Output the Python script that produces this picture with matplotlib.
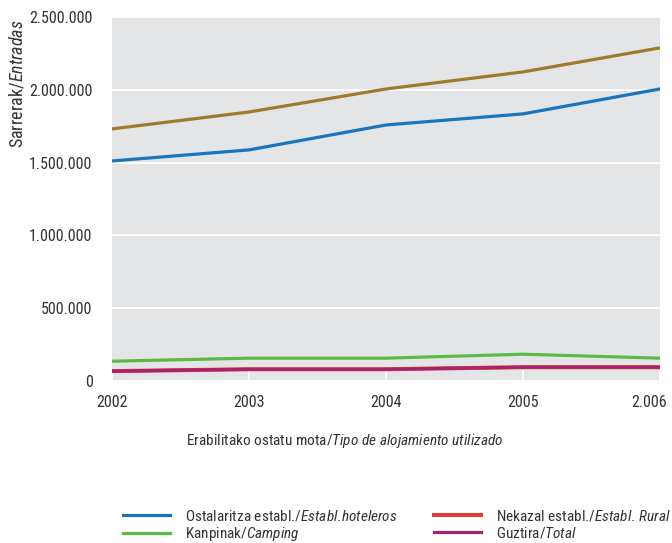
import matplotlib
matplotlib.use('Agg')
import matplotlib.pyplot as plt
import matplotlib.transforms as mtransforms
from matplotlib.ticker import FuncFormatter

# Data
years = [2002, 2003, 2004, 2005, 2006]
year_labels = ['2002', '2003', '2004', '2005', '2.006']
hoteleros = [1511000, 1587000, 1758000, 1834000, 2005000]
total_top = [1731000, 1847000, 2005000, 2122000, 2287000]
camping = [137000, 158000, 158000, 185000, 158000]
rural = [69000, 82000, 82000, 96000, 96000]
guztira = [69000, 82000, 82000, 96000, 96000]

FONT = 'Roboto Condensed'
plt.rcParams['font.family'] = [FONT, 'IBM Plex Sans Condensed', 'DejaVu Sans']
plt.rcParams['mathtext.fontset'] = 'custom'
plt.rcParams['mathtext.rm'] = FONT
plt.rcParams['mathtext.it'] = FONT + ':italic'

TXT = '#333333'

fig = plt.figure(figsize=(6.72, 5.43), dpi=100)
ax = fig.add_axes([0.1667, 0.298, 0.8153, 0.671])
ax.set_facecolor('#e4e5e7')
for s in ax.spines.values():
    s.set_visible(False)

lw = 2.3
ax.plot(years, total_top, color='#a07c2a', lw=lw, zorder=3)
h1, = ax.plot(years, hoteleros, color='#1a75bc', lw=lw, zorder=3)
h2, = ax.plot(years, camping, color='#5cb947', lw=lw, zorder=3)
h3, = ax.plot(years, rural, color='#e03c31', lw=lw + 0.6, zorder=3)
h4, = ax.plot(years, guztira, color='#a8226f', lw=lw, zorder=4)

ax.set_xlim(2002, 2006)
ax.set_ylim(0, 2500000)
ax.set_yticks([0, 500000, 1000000, 1500000, 2000000, 2500000])
ax.yaxis.set_major_formatter(FuncFormatter(lambda v, p: f'{v:,.0f}'.replace(',', '.')))
ax.set_xticks(years)
ax.set_xticklabels(year_labels)
ax.grid(axis='y', color='white', lw=1.3, zorder=1)
ax.tick_params(axis='y', length=0, labelsize=11.5, colors=TXT, pad=14)
ax.tick_params(axis='x', direction='in', length=8, width=1.3, color='white',
               labelsize=11.5, labelcolor=TXT, pad=10)

# last year label sits inside the figure
last = ax.get_xticklabels()[-1]
last.set_horizontalalignment('right')
last.set_transform(last.get_transform() + mtransforms.ScaledTranslation(7 / 100, 0, fig.dpi_scale_trans))

fig.text(0.026, 0.846, r'Sarrerak/$\mathit{Entradas}$', rotation=90,
         ha='center', va='center', fontsize=13, color=TXT)
fig.text(0.513, 0.188, r'Erabilitako ostatu mota/$\mathit{Tipo\ de\ alojamiento\ utilizado}$',
         ha='center', va='center', fontsize=11, color=TXT)

# legend: two separate columns placed like the original
leg_kw = dict(loc='upper left', frameon=False, fontsize=11, handlelength=3.1,
              handletextpad=0.95, labelspacing=0.1, borderpad=0,
              borderaxespad=0, labelcolor=TXT)
fig.legend([h1, h2], [r'Ostalaritza establ./$\mathit{Establ.\!hoteleros}$',
                      r'Kanpinak/$\mathit{Camping}$'],
           bbox_to_anchor=(0.183, 0.0635), **leg_kw)
fig.legend([h3, h4], [r'Nekazal establ./$\mathit{Establ.\!}$ $\mathit{Rural}$',
                      r'Guztira/$\mathit{Total}$'],
           bbox_to_anchor=(0.646, 0.0635), **leg_kw)

fig.savefig('out.png', dpi=100)
